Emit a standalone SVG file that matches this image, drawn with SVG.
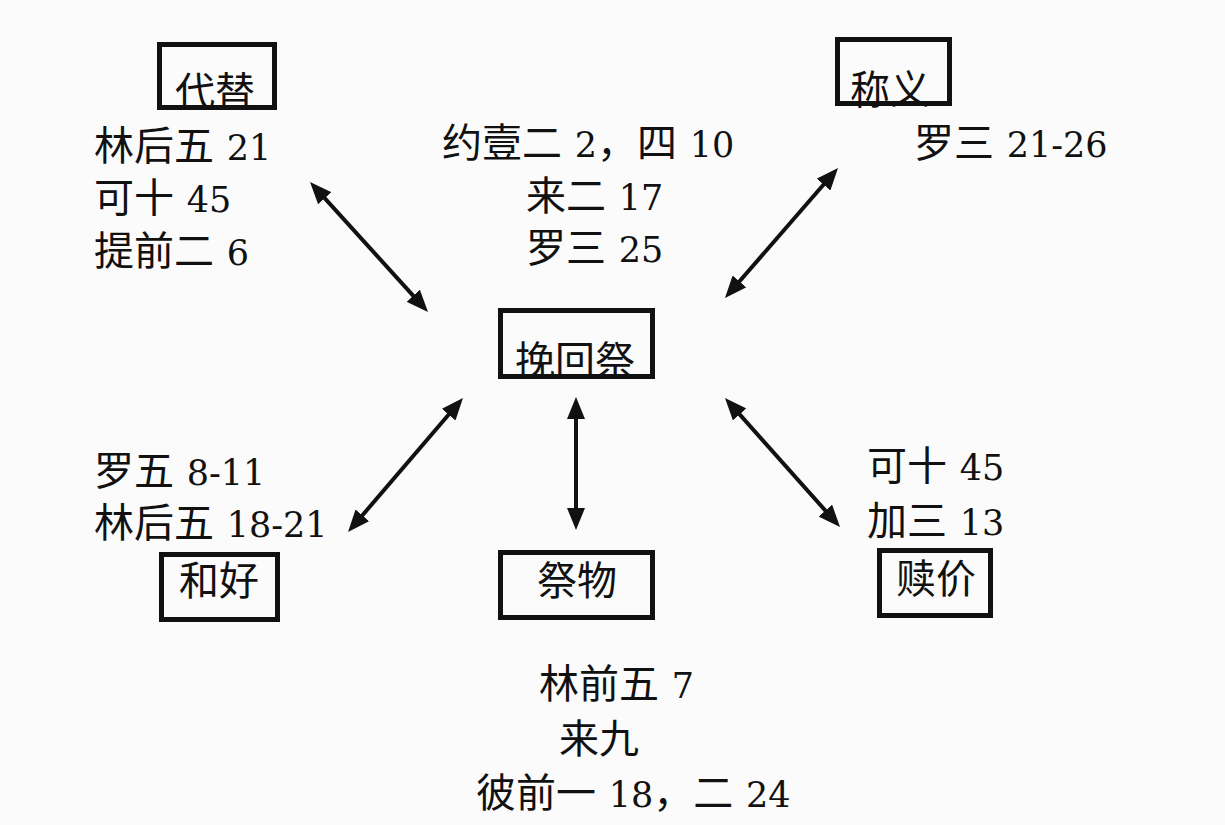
<svg xmlns="http://www.w3.org/2000/svg" width="1225" height="825" viewBox="0 0 1225 825">
<style>
.t{font-family:"DejaVu Serif","Noto Sans CJK SC",serif;font-size:40px;fill:#111}
.d{font-size:35px}
.box{fill:none;stroke:#111;stroke-width:5}
.con{stroke:#111;stroke-width:4;fill:none;marker-start:url(#ah);marker-end:url(#ah)}
</style>
<defs>
<marker id="ah" viewBox="0 0 22 18" refX="11" refY="9" markerWidth="22" markerHeight="18" markerUnits="userSpaceOnUse" orient="auto-start-reverse">
<path d="M0,0 L22,9 L0,18 Z" fill="#111"/>
</marker>
</defs>
<rect width="1225" height="825" fill="#fbfbfb"/>
<g id="connectors">
<line class="con" x1="317.4" y1="190.1" x2="420.6" y2="303.9"/>
<line class="con" x1="830.8" y1="176.3" x2="732.2" y2="289.7"/>
<line class="con" x1="455.8" y1="406.3" x2="355.2" y2="523.7"/>
<line class="con" x1="576" y1="408" x2="576" y2="519"/>
<line class="con" x1="732.3" y1="406.2" x2="832.7" y2="518.8"/>
</g>
<g id="node-daiti">
<text class="t" x="175" y="106">代替</text>
<rect class="box" x="159.5" y="44.5" width="115" height="63"/>
<text class="t" x="94" y="160">林后五 <tspan class="d">21</tspan></text>
<text class="t" x="94" y="212">可十 <tspan class="d">45</tspan></text>
<text class="t" x="94" y="265">提前二 <tspan class="d">6</tspan></text>
</g>
<g id="node-chengyi">
<text class="t" x="850" y="104">称义</text>
<rect class="box" x="837.5" y="39.5" width="112" height="64"/>
<text class="t" x="914" y="157">罗三 <tspan class="d">21-26</tspan></text>
</g>
<g id="node-top-refs">
<text class="t" x="442" y="157">约壹二 <tspan class="d">2</tspan>，四 <tspan class="d">10</tspan></text>
<text class="t" x="526" y="210">来二 <tspan class="d">17</tspan></text>
<text class="t" x="526" y="262">罗三 <tspan class="d">25</tspan></text>
</g>
<g id="node-wanhuiji">
<text class="t" x="515" y="375">挽回祭</text>
<rect class="box" x="500.5" y="310.5" width="152" height="66"/>
</g>
<g id="node-heha">
<text class="t" x="94" y="485">罗五 <tspan class="d">8-11</tspan></text>
<text class="t" x="94" y="537">林后五 <tspan class="d">18-21</tspan></text>
<rect class="box" x="161.5" y="554.5" width="116" height="65"/>
<text class="t" x="179" y="595">和好</text>
</g>
<g id="node-jiwu">
<rect class="box" x="500.5" y="552.5" width="152" height="65"/>
<text class="t" x="537" y="595">祭物</text>
<text class="t" x="539" y="698">林前五 <tspan class="d">7</tspan></text>
<text class="t" x="559" y="753">来九</text>
<text class="t" x="476" y="807">彼前一 <tspan class="d">18</tspan>，二 <tspan class="d">24</tspan></text>
</g>
<g id="node-shujia">
<text class="t" x="867" y="480">可十 <tspan class="d">45</tspan></text>
<text class="t" x="867" y="535">加三 <tspan class="d">13</tspan></text>
<rect class="box" x="879.5" y="550.5" width="111" height="65"/>
<text class="t" x="896" y="593">赎价</text>
</g>
</svg>
